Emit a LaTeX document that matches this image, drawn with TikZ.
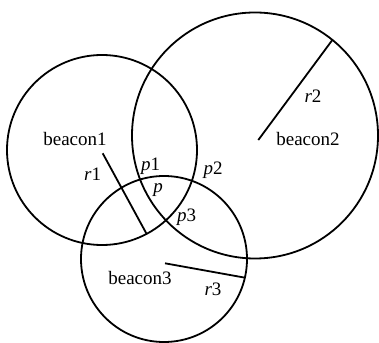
\documentclass[tikz,border=0pt]{standalone}
\usepackage{fontspec}
\setmainfont{Liberation Serif}
\begin{document}
\begin{tikzpicture}[x=1pt,y=1pt,
  ring/.style={draw,circle,line width=1.8pt,inner sep=0pt,outer sep=0pt},
  rad/.style={line width=1.8pt},
  lbl/.style={inner sep=0pt,font=\fontsize{19}{22}\selectfont}]
\useasboundingbox (0,0) rectangle (379,342);
\node[ring,minimum size=190pt] (c1) at (102,192) {};
\node[ring,minimum size=246pt] (c2) at (255,206.5) {};
\node[ring,minimum size=166pt] (c3) at (164,83) {};
\coordinate (s1) at (102.7,188.7);
\coordinate (s2) at (258.3,202);
\coordinate (s3) at (165,78.7);
\draw[rad] (s1) -- (c1.-62.9);
\draw[rad] (s2) -- (c2.51.2);
\draw[rad] (s3) -- (c3.-13);
\node[lbl] (b1) at (75,202.7) {beacon1};
\node[lbl] (b2) at (308,203) {beacon2};
\node[lbl] (b3) at (140,64) {beacon3};
\node[lbl] (lr1) at (92.7,168) {\textit{r}1};
\node[lbl] (lr2) at (313,245.3) {\textit{r}2};
\node[lbl] (lr3) at (213,53) {\textit{r}3};
\node[lbl] (lp1) at (150.7,176) {\textit{p}1};
\node[lbl] (lp) at (158,152) {\textit{p}};
\node[lbl] (lp2) at (213,171.3) {\textit{p}2};
\node[lbl] (lp3) at (186.7,125) {\textit{p}3};
\end{tikzpicture}
\end{document}
